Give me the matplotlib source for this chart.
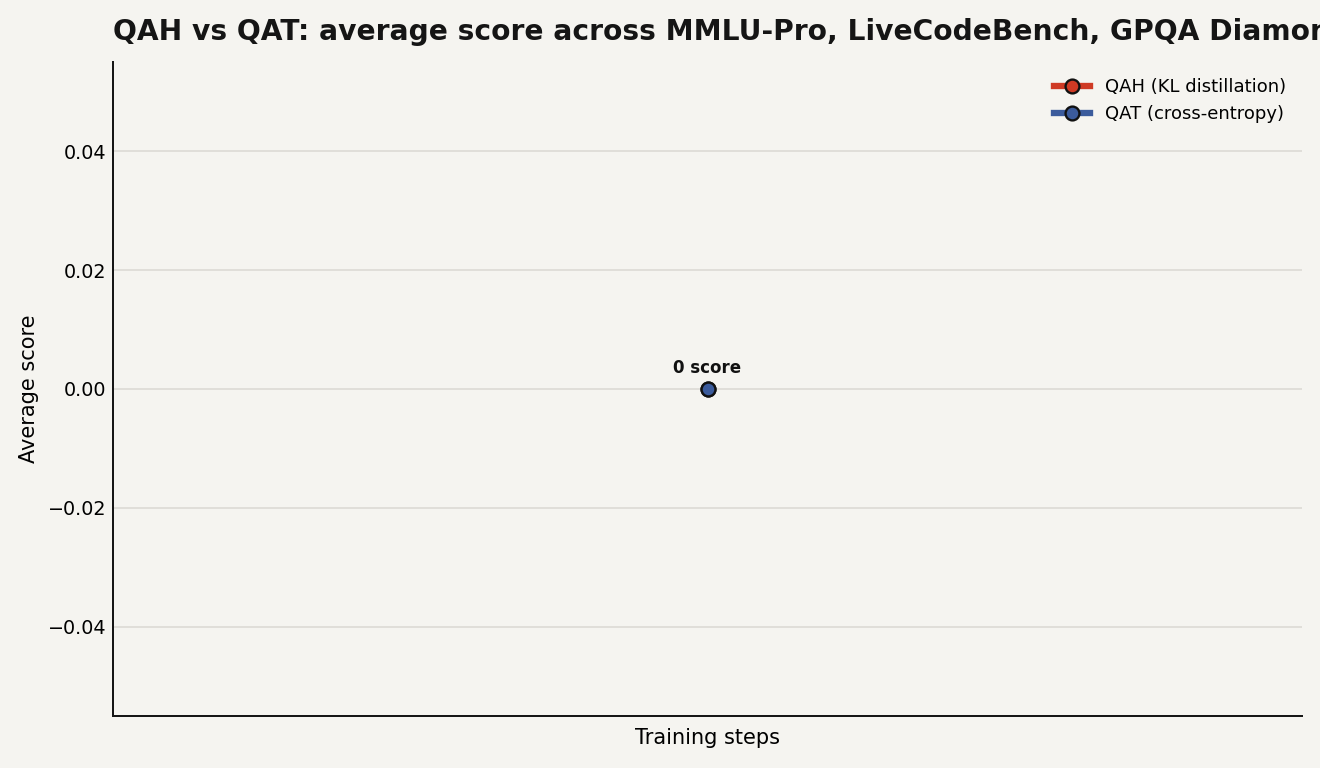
import matplotlib
matplotlib.use('Agg')
import matplotlib.pyplot as plt

# 数据：只有一个评估点
steps = [0]
qah_scores = [0.0]
qat_scores = [0.0]
series_labels = ['QAH (KL distillation)', 'QAT (cross-entropy)']

bg = '#f5f4f0'
W, H = 1320, 768
fig = plt.figure(figsize=(W / 120, H / 120), dpi=120, facecolor=bg)
ax = fig.add_axes([113 / W, 1 - 716 / H, (1302 - 113) / W, (716 - 62) / H])
ax.set_facecolor(bg)

ax.plot(steps, qah_scores, color='#cf3a24', lw=3.8, marker='o', ms=8.3,
        markerfacecolor='#cf3a24', markeredgecolor='#111111', markeredgewidth=1.4,
        label=series_labels[0], zorder=3)
ax.plot(steps, qat_scores, color='#3b5b9c', lw=3.8, marker='o', ms=8.3,
        markerfacecolor='#3b5b9c', markeredgecolor='#111111', markeredgewidth=1.4,
        label=series_labels[1], zorder=4)

ax.annotate(f'{qat_scores[-1]:.0f} score', (steps[-1], qat_scores[-1]),
            xytext=(0, 7.0), textcoords='offset points', ha='center', va='bottom',
            fontsize=10, fontweight='bold', color='#111111')

ax.set_title('QAH vs QAT: average score across MMLU-Pro, LiveCodeBench, GPQA Diamond',
             loc='left', fontsize=16.9, fontweight='bold', color='#151515', pad=13.5)
ax.set_xlabel('Training steps', fontsize=12.5, labelpad=7)
ax.set_ylabel('Average score', fontsize=12.5, labelpad=5)
ax.set_xticks([])
ax.tick_params(axis='y', labelsize=11.5, length=0, pad=4)

ax.grid(axis='y', color='#dcdad5', lw=1.0)
ax.set_axisbelow(True)
for s in ['top', 'right']:
    ax.spines[s].set_visible(False)
for s in ['left', 'bottom']:
    ax.spines[s].set_color('#161616')
    ax.spines[s].set_linewidth(1.2)

ax.legend(loc='upper right', frameon=False, fontsize=10.8, handlelength=2.0)

fig.savefig('out.png', dpi=120, facecolor=bg)
